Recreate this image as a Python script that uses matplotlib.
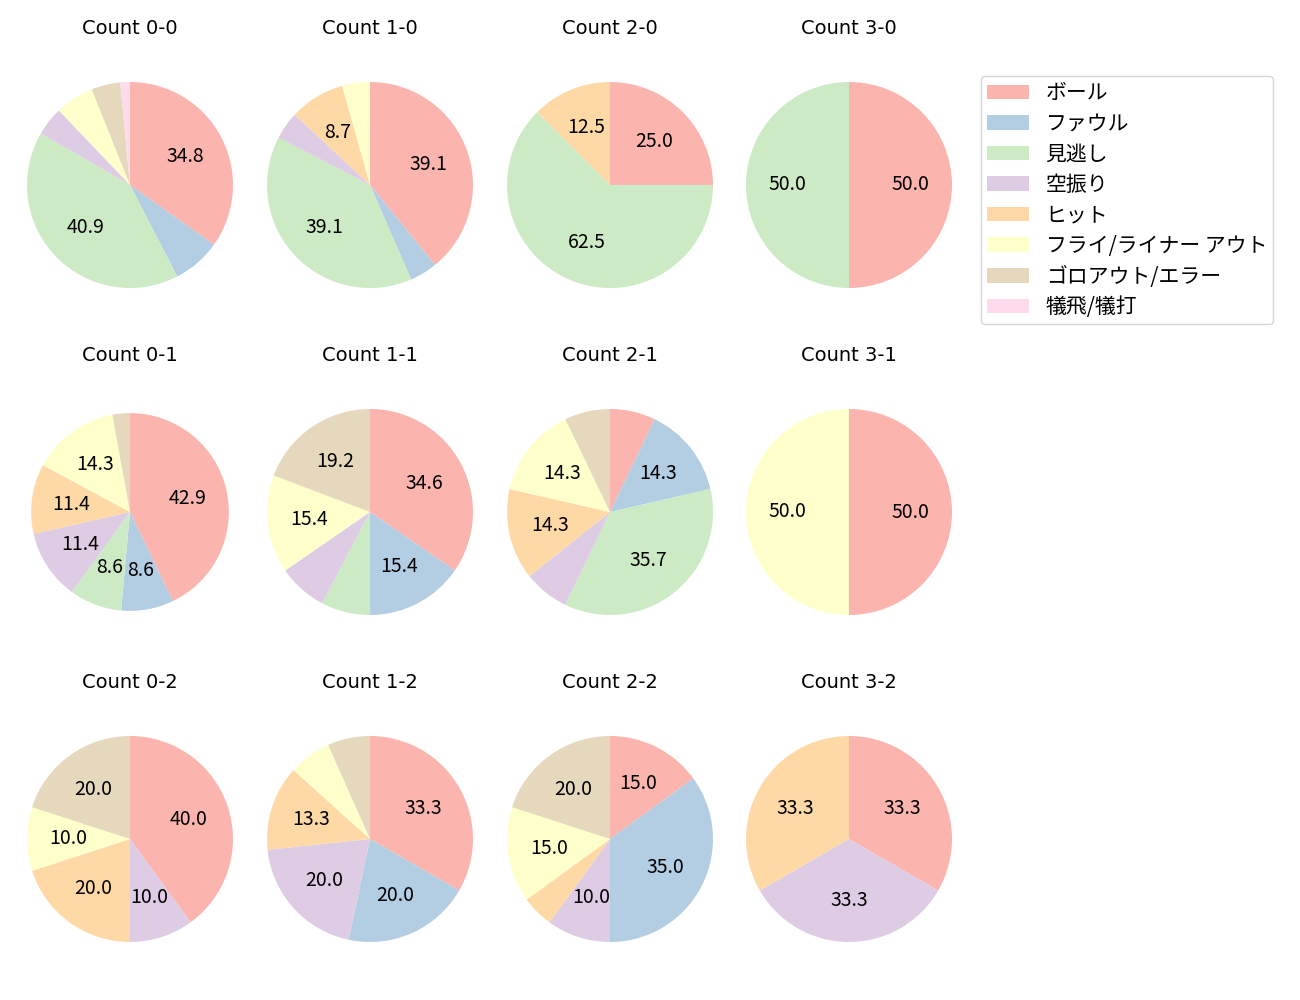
import numpy as np
import matplotlib
matplotlib.use('Agg')
import matplotlib.pyplot as plt
from matplotlib.patches import Patch

plt.rcParams['font.family'] = ['Noto Sans CJK JP', 'DejaVu Sans']

# カテゴリ
categories = ['ボール', 'ファウル', '見逃し', '空振り', 'ヒット',
              'フライ/ライナー アウト', 'ゴロアウト/エラー', '犠飛/犠打']

# カウント別の件数 (カテゴリ順)
count_0_0 = [23, 5, 27, 3, 0, 4, 3, 1]
count_1_0 = [9, 1, 9, 1, 2, 1, 0, 0]
count_2_0 = [2, 0, 5, 0, 1, 0, 0, 0]
count_3_0 = [1, 0, 1, 0, 0, 0, 0, 0]
count_0_1 = [15, 3, 3, 4, 4, 5, 1, 0]
count_1_1 = [9, 4, 2, 2, 0, 4, 5, 0]
count_2_1 = [1, 2, 5, 1, 2, 2, 1, 0]
count_3_1 = [1, 0, 0, 0, 0, 1, 0, 0]
count_0_2 = [4, 0, 0, 1, 2, 1, 2, 0]
count_1_2 = [5, 3, 0, 3, 2, 1, 1, 0]
count_2_2 = [3, 7, 0, 2, 1, 3, 4, 0]
count_3_2 = [1, 0, 0, 1, 1, 0, 0, 0]

grid = [
    [('Count 0-0', count_0_0), ('Count 1-0', count_1_0), ('Count 2-0', count_2_0), ('Count 3-0', count_3_0)],
    [('Count 0-1', count_0_1), ('Count 1-1', count_1_1), ('Count 2-1', count_2_1), ('Count 3-1', count_3_1)],
    [('Count 0-2', count_0_2), ('Count 1-2', count_1_2), ('Count 2-2', count_2_2), ('Count 3-2', count_3_2)],
]

colors = plt.cm.Pastel1(np.arange(8))

W, H = 1300, 1000
fig = plt.figure(figsize=(13, 10), dpi=100)

col_x = [130, 370, 610, 849]
row_y = [185, 512, 839]
box = 240      # px
radius = 103   # px

def autopct(p):
    return f'{p:.1f}' if p >= 8 else ''

for r, row in enumerate(grid):
    for c, (title, vals) in enumerate(row):
        cx, cy = col_x[c], row_y[r]
        ax = fig.add_axes([(cx - box / 2) / W, 1 - (cy + box / 2) / H, box / W, box / H])
        vals = np.array(vals)
        mask = vals > 0
        rad = 0.96 if title == 'Count 0-1' else 1.0
        ax.pie(vals[mask], colors=colors[mask], startangle=90, counterclock=False,
               autopct=autopct, pctdistance=0.6, radius=rad,
               textprops={'fontsize': 14})
        lim = box / 2 / radius
        ax.set_xlim(-lim, lim)
        ax.set_ylim(-lim, lim)
        ax.set_aspect('equal')
        ax.set_title(title, fontsize=14, pad=22, family=['DejaVu Sans'])

handles = [Patch(facecolor=colors[i], label=categories[i]) for i in range(8)]
fig.legend(handles=handles, loc='upper left', bbox_to_anchor=(981 / W, 1 - 76 / H),
           fontsize=15, labelspacing=0.41, borderpad=0.3, borderaxespad=0)

fig.savefig('out.png', dpi=100)
